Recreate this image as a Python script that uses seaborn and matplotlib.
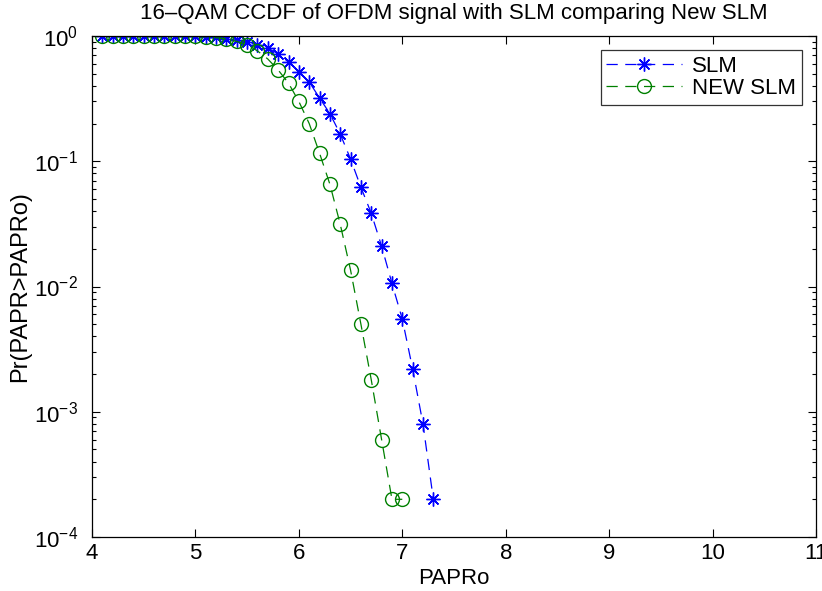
import numpy as np
import pandas as pd
import matplotlib
matplotlib.use("Agg")
import matplotlib.pyplot as plt
import seaborn as sns
from matplotlib.ticker import LogLocator, FixedLocator, NullFormatter

# ---- data ----
papr_slm = [4.1, 4.2, 4.3, 4.4, 4.5, 4.6, 4.7, 4.8, 4.9, 5.0,
            5.1, 5.2, 5.3, 5.4, 5.5, 5.6, 5.7, 5.8, 5.9, 6.0,
            6.1, 6.2, 6.3, 6.4, 6.5, 6.6, 6.7, 6.8, 6.9, 7.0,
            7.1, 7.2, 7.3]
ccdf_slm = [1.0, 1.0, 1.0, 1.0, 1.0, 1.0, 1.0, 0.999, 0.998, 0.995,
            0.99, 0.975, 0.955, 0.925, 0.89, 0.85, 0.80, 0.72, 0.62, 0.52,
            0.43, 0.32, 0.24, 0.165, 0.104, 0.062, 0.0384, 0.021, 0.0106, 0.0055,
            0.0022, 0.0008, 0.0002]

papr_new = [4.1, 4.2, 4.3, 4.4, 4.5, 4.6, 4.7, 4.8, 4.9, 5.0,
            5.1, 5.2, 5.3, 5.4, 5.5, 5.6, 5.7, 5.8, 5.9, 6.0,
            6.1, 6.2, 6.3, 6.4, 6.5, 6.6, 6.7, 6.8, 6.9, 7.0]
ccdf_new = [1.0, 1.0, 1.0, 1.0, 1.0, 1.0, 0.999, 0.998, 0.996, 0.992,
            0.985, 0.97, 0.945, 0.905, 0.85, 0.76, 0.655, 0.535, 0.42, 0.30,
            0.200, 0.116, 0.0655, 0.0314, 0.0135, 0.005, 0.0018, 0.0006, 0.0002, 0.0002]

series_names = ["SLM", "NEW SLM"]
title = "16\u2013QAM CCDF of OFDM signal with SLM comparing New SLM"
xlabel = "PAPRo"
ylabel = "Pr(PAPR>PAPRo)"
xticks = [4, 5, 6, 7, 8, 9, 10, 11]

sns.set_style("white")
plt.rcParams["font.family"] = ["Liberation Sans", "DejaVu Sans"]
plt.rcParams["mathtext.fontset"] = "custom"
plt.rcParams["mathtext.rm"] = "Liberation Sans"
plt.rcParams["mathtext.it"] = "Liberation Sans:italic"
plt.rcParams["mathtext.bf"] = "Liberation Sans:bold"
plt.rcParams["text.color"] = "black"
plt.rcParams["axes.labelcolor"] = "black"

fig = plt.figure(figsize=(8.22, 5.91), dpi=100)
ax = fig.add_axes([92 / 822, 1 - 537 / 591, (816 - 92) / 822, (537 - 36) / 591])

df1 = pd.DataFrame({"x": papr_slm, "y": ccdf_slm})
df2 = pd.DataFrame({"x": papr_new, "y": ccdf_new})

sns.lineplot(data=df1, x="x", y="y", ax=ax, color="#0000ff", linewidth=0.9,
             linestyle=(0, (9, 6)), marker=(8, 2, 0), markersize=10,
             markeredgewidth=1.0, markeredgecolor="#0000ff",
             label=series_names[0], estimator=None, sort=False)
sns.lineplot(data=df2, x="x", y="y", ax=ax, color="#008000", linewidth=0.9,
             linestyle=(0, (9, 6)), marker="o", markersize=10,
             markerfacecolor="none", markeredgewidth=1.0, markeredgecolor="#008000",
             label=series_names[1], estimator=None, sort=False)

ax.set_yscale("log")
ax.set_xlim(4, 11)
ax.set_ylim(1e-4, 1)
ax.xaxis.set_major_locator(FixedLocator(xticks))
ax.set_xticklabels([str(t) for t in xticks])
ax.yaxis.set_major_locator(LogLocator(base=10, numticks=10))
ax.yaxis.set_minor_locator(LogLocator(base=10, subs=np.arange(2, 10) * 1.0, numticks=100))
ax.yaxis.set_minor_formatter(NullFormatter())

ax.tick_params(which="both", direction="in", bottom=True, left=True, top=True, right=True,
               labelsize=16, width=0.8, colors="black")
ax.tick_params(which="major", length=6)
ax.tick_params(which="minor", length=3)
ax.tick_params(axis="x", which="major", pad=4)
ax.tick_params(axis="y", which="major", pad=10)
for s in ax.spines.values():
    s.set_visible(True)
    s.set_color("black")
    s.set_linewidth(0.9)

ax.set_title(title, fontsize=16, pad=12, color="black")
ax.set_xlabel(xlabel, fontsize=16, labelpad=3)
ax.set_ylabel(ylabel, fontsize=17, labelpad=2)

leg = ax.legend(loc="upper right", fontsize=16, frameon=True, fancybox=False,
                edgecolor="black", handlelength=3.4, borderpad=0.25,
                labelspacing=0.05, handletextpad=0.45, borderaxespad=0.65)
leg.get_frame().set_linewidth(0.9)

fig.savefig("out.png", dpi=100)
